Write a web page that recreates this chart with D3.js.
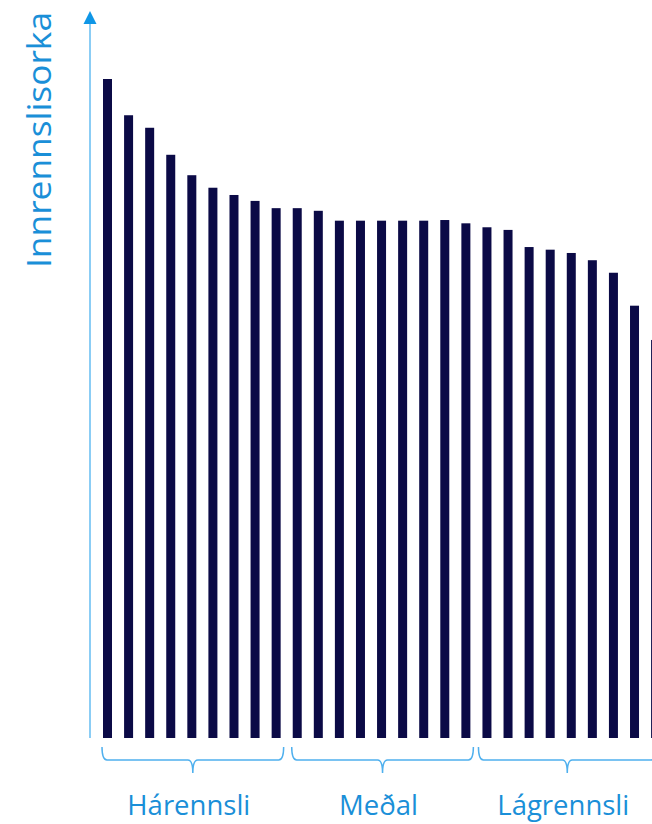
<html>
<head>
<meta charset="utf-8">
<style>
    body { margin: 0; background: #fff; }
    svg text { font-family: "Open Sans", "Noto Sans", sans-serif; fill: #1a8fd8; }
    .bar { fill: #0b0a46; }
    .brace { fill: none; stroke: #4fb0ee; stroke-width: 1.5; }
    .axis-line { stroke: #64bdf2; stroke-width: 1.5; }
    .axis-head { fill: #0f96e6; }
</style>
</head>
<body>
<div id="target"></div>
<script src="https://cdnjs.cloudflare.com/ajax/libs/d3/7.8.5/d3.min.js"></script>
<script>
    // bar heights (relative energy, tallest = 100)
    var values = [100, 94.5, 92.6, 88.5, 85.4, 83.5, 82.4, 81.5, 80.4,
                  80.4, 80.0, 78.5, 78.5, 78.5, 78.5, 78.5, 78.6, 78.1,
                  77.5, 77.1, 74.5, 74.1, 73.6, 72.5, 70.6, 65.6, 60.4];
    var groups = ['Hárennsli', 'Meðal', 'Lágrennsli'];
    var groupStart = [0, 9, 18];
    var groupEnd = [8, 17, 26];
    var yLabel = 'Innrennslisorka';

    var W = 652, H = 824;
    var svg = d3.select('#target').append('svg')
        .attr('width', W).attr('height', H);

    var x = d3.scaleBand()
        .domain(d3.range(values.length))
        .range([103, 660.1])
        .paddingInner(0.573)
        .paddingOuter(0);

    var y = d3.scaleLinear().domain([0, 100]).range([738, 79]);

    // bars
    svg.append('g').selectAll('rect')
        .data(values)
        .enter().append('rect')
        .attr('class', 'bar')
        .attr('x', function (d, i) { return x(i); })
        .attr('y', function (d) { return y(d); })
        .attr('width', x.bandwidth())
        .attr('height', function (d) { return y(0) - y(d); });

    // y axis with arrow
    svg.append('line').attr('class', 'axis-line')
        .attr('x1', 90).attr('x2', 90)
        .attr('y1', y(0)).attr('y2', 22);
    svg.append('path').attr('class', 'axis-head')
        .attr('d', 'M90,11 L83.5,24 L96.5,24 Z');

    svg.append('text')
        .attr('transform', 'translate(51,140) rotate(-90)')
        .attr('text-anchor', 'middle')
        .attr('font-size', 32)
        .attr('textLength', 256)
        .attr('lengthAdjust', 'spacingAndGlyphs')
        .text(yLabel);

    // braces under groups
    var braceTop = 747, braceMid = 760, braceTip = 773, c = 5;
    var bracePath = function (x0, x1) {
        var cx = (x0 + x1) / 2;
        return 'M' + x0 + ',' + braceTop +
            ' Q' + x0 + ',' + braceMid + ' ' + (x0 + c) + ',' + braceMid +
            ' L' + (cx - c) + ',' + braceMid +
            ' Q' + cx + ',' + braceMid + ' ' + cx + ',' + braceTip +
            ' Q' + cx + ',' + braceMid + ' ' + (cx + c) + ',' + braceMid +
            ' L' + (x1 - c) + ',' + braceMid +
            ' Q' + x1 + ',' + braceMid + ' ' + x1 + ',' + braceTop;
    };

    var gB = svg.append('g');
    groups.forEach(function (name, k) {
        var x0 = x(groupStart[k]) - (k === 2 ? 4 : 1);
        var x1 = x(groupEnd[k]) + x.bandwidth() + (k === 2 ? -4 : 3);
        gB.append('path').attr('class', 'brace').attr('d', bracePath(x0, x1));
        gB.append('text')
            .attr('x', (x0 + x1) / 2 - 4)
            .attr('y', 815)
            .attr('text-anchor', 'middle')
            .attr('font-size', 27.5)
            .text(name);
    });
</script>
</body>
</html>
